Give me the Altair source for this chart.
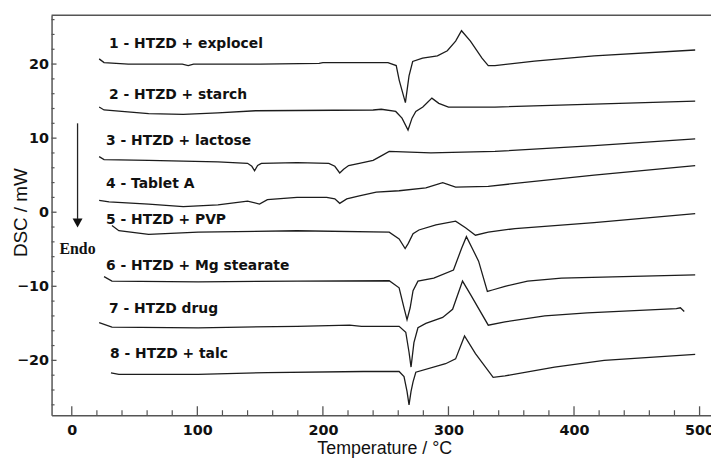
import altair as alt
import pandas as pd

# ---- data ----
names = ["1 - HTZD + explocel", "2 - HTZD + starch", "3 - HTZD + lactose", "4 - Tablet A",
         "5 - HTZD + PVP", "6 - HTZD + Mg stearate", "7 - HTZD drug", "8 - HTZD + talc"]

t1 = [21.8, 25.7, 45, 88, 92.7, 97, 150, 197, 200, 251.8, 258.4, 260.8, 265.7, 268.6, 271.5, 279.4,
      291.2, 299.1, 305.7, 310.4, 317.5, 326.7, 331.7, 337, 368.5, 416, 496.5]
d1 = [20.7, 20.2, 20.0, 20.0, 19.8, 20.0, 20.0, 20.1, 20.2, 20.2, 19.8, 17.8, 14.8, 18.4, 20.35, 20.8,
      21.1, 21.8, 23.1, 24.5, 23.1, 20.8, 19.8, 19.8, 20.4, 21.1, 21.9]

t2 = [21.8, 25.7, 61.2, 88.8, 116.4, 146.4, 240, 246.5, 258, 263, 267.8, 271, 274, 279.6, 286.8,
      292.3, 300, 337, 416, 496.5]
d2 = [14.2, 13.8, 13.3, 13.2, 13.4, 13.7, 13.8, 13.9, 13.6, 12.7, 11.1, 12.7, 13.6, 14.2, 15.4,
      14.7, 14.2, 14.2, 14.6, 15.0]

t3 = [21.8, 25.7, 61.2, 116.4, 140, 143.4, 145.6, 148, 151, 179.4, 204.7, 209.5, 213.4, 216.5, 220.5,
      229, 240, 246.5, 252.8, 286, 337, 416, 496.5]
d3 = [7.5, 7.1, 7.0, 6.8, 6.6, 6.2, 5.6, 6.3, 6.6, 6.7, 6.6, 6.2, 5.3, 5.8, 6.3,
      6.6, 7.0, 7.6, 8.2, 8.0, 8.2, 9.0, 9.9]

t4 = [21.8, 29.7, 61.2, 88.8, 116.4, 140, 149.5, 155.8, 179.4, 203, 209.5, 213.4, 219, 229, 242.5,
      260.7, 282, 295.4, 305.7, 331.7, 416, 496.5]
d4 = [1.6, 1.4, 1.1, 0.75, 1.0, 1.5, 1.1, 1.7, 2.0, 2.0, 1.8, 1.2, 1.8, 2.2, 2.7,
      2.9, 3.3, 4.0, 3.4, 3.5, 5.0, 6.3]

t5 = [32, 37.5, 61.2, 100.6, 179.4, 252.8, 260.7, 265.5, 268, 271.8, 276.5, 290, 305.7, 313.6, 321.5,
      331.7, 353, 416, 496.5]
d5 = [-1.8, -2.5, -3.0, -2.7, -2.5, -2.7, -3.6, -4.9, -4.2, -2.9, -2.4, -1.7, -1.2, -2.1, -3.1,
      -2.7, -2.2, -1.4, -0.2]

t6 = [25.7, 32, 100.6, 179.4, 252.8, 260.7, 264.6, 267, 269.5, 271.8, 275.7, 288.3, 304, 310.4, 314.3,
      319, 324, 331, 335, 345, 363, 390, 496.5]
d6 = [-8.7, -9.3, -9.4, -9.3, -9.25, -10.2, -12.9, -14.5, -12.9, -10.6, -9.3, -8.9, -7.8, -4.9, -3.3,
      -4.9, -6.6, -10.7, -10.5, -10.0, -9.3, -8.9, -8.45]

t7 = [21.8, 32, 100.6, 179.4, 221.3, 230.7, 260.7, 266, 268.6, 270.2, 272.5, 275.7, 282, 295.4, 303.3,
      311.2, 317.5, 331.7, 345, 376.7, 410.5, 481.5, 484.7, 487.8]
d7 = [-14.9, -15.5, -15.6, -15.4, -15.25, -15.4, -15.4, -16.2, -18.9, -20.9, -17.6, -15.6, -15.0, -14.2, -13.1,
      -9.3, -11.1, -15.25, -14.8, -14.0, -13.6, -13.0, -12.9, -13.4]

t8 = [31.2, 37.5, 100.6, 155.8, 232.3, 260.7, 264.6, 267, 268.6, 270.2, 271.8, 274, 297.7, 305.7, 312.8,
      321.5, 335.6, 345, 384.5, 424, 496.5]
d8 = [-21.7, -21.9, -21.9, -21.65, -21.5, -21.5, -22.2, -24.2, -26.0, -24.2, -22.9, -21.6, -20.45, -19.8, -16.7,
      -19.1, -22.3, -22.1, -20.9, -20.0, -19.2]

label_t = [29.7, 29.7, 27.3, 27.3, 27.3, 27.3, 29.7, 30.5]
label_d = [22.7, 15.8, 9.55, 3.8, -1.1, -7.2, -13.1, -19.1]

x_major = [0, 100, 200, 300, 400, 500]
x_minor = [v for v in range(20, 500, 20) if v % 100 != 0]
y_major = [-20, -10, 0, 10, 20]
y_minor = [v for v in range(-26, 27, 2) if v % 10 != 0]

arrow_t = [4.6]
arrow_top = [12.0]
arrow_end = [-0.9]
arrow_head = [-1.45]
endo_t = [-9.8]
endo_d = [-5.6]

# ---- build tables ----
series_t = [t1, t2, t3, t4, t5, t6, t7, t8]
series_d = [d1, d2, d3, d4, d5, d6, d7, d8]
rows = []
for n, ts, ds in zip(names, series_t, series_d):
    for i, (t, d) in enumerate(zip(ts, ds)):
        rows.append({"curve": n, "i": i, "T": t, "DSC": d})
curves = pd.DataFrame(rows)
labels = pd.DataFrame({"name": names, "T": label_t, "DSC": label_d})

W, H = 666, 404
xs = alt.Scale(domain=[-16.1, 509.1], nice=False, zero=False)
ys = alt.Scale(domain=[-27.4, 26.6], nice=False, zero=False)
AX = "#555555"
LBL = "DejaVu Sans"

xax = alt.Axis(
    values=x_major, ticks=False, grid=False, domainColor=AX, domainWidth=1.5,
    labelFont=LBL, labelFontWeight="bold", labelFontSize=14.5, labelColor="#111",
    labelPadding=9, title="Temperature / °C", titleFont="Liberation Sans",
    titleFontWeight="normal", titleFontSize=18, titleColor="#111",
    titleBaseline="alphabetic", titleY=39, titleX=336)
yax = alt.Axis(
    values=y_major, ticks=False, grid=False, domainColor=AX, domainWidth=1.5,
    labelFont=LBL, labelFontWeight="bold", labelFontSize=14.5, labelColor="#111",
    labelPadding=3, title="DSC / mW", titleFont="Liberation Sans", titleFontWeight="normal",
    titleFontSize=19, titleColor="#111", titleBaseline="alphabetic", titleAlign="center",
    titleAngle=270, titleX=-25, titleY=199)


def X(f="T"):
    return alt.X(f"{f}:Q", scale=xs, axis=xax, title="Temperature / °C")


def Y(f="DSC"):
    return alt.Y(f"{f}:Q", scale=ys, axis=yax, title="DSC / mW")


lines = alt.Chart(curves).mark_line(color="#1c1c1c", strokeWidth=1.3, interpolate="linear").encode(
    x=X(), y=Y(), detail="curve:N", order="i:Q")

text = alt.Chart(labels).mark_text(align="left", baseline="middle", font=LBL,
                                   fontWeight="bold", fontSize=14, color="#111").encode(
    x=X(), y=Y(), text="name:N")

xmaj = alt.Chart(pd.DataFrame({"T": x_major})).mark_rule(color=AX, strokeWidth=1.3).encode(
    x=X(), y=alt.value(H), y2=alt.value(H - 9))
xmin = alt.Chart(pd.DataFrame({"T": x_minor})).mark_rule(color=AX, strokeWidth=1.2).encode(
    x=X(), y=alt.value(H), y2=alt.value(H - 5))
ymaj = alt.Chart(pd.DataFrame({"DSC": y_major})).mark_rule(color=AX, strokeWidth=1.3).encode(
    y=Y(), x=alt.value(0), x2=alt.value(5))
ymin = alt.Chart(pd.DataFrame({"DSC": y_minor})).mark_rule(color=AX, strokeWidth=1.2).encode(
    y=Y(), x=alt.value(0), x2=alt.value(3))
top = alt.Chart(pd.DataFrame({"v": [0]})).mark_rule(color=AX, strokeWidth=1.5).encode(
    x=alt.value(0), x2=alt.value(W), y=alt.value(0))

arrow = alt.Chart(pd.DataFrame({"T": arrow_t, "DSC": arrow_top, "b": arrow_end})).mark_rule(
    color="#222", strokeWidth=1.3).encode(x=X(), y=Y(), y2="b:Q")
head = alt.Chart(pd.DataFrame({"T": arrow_t, "DSC": arrow_head})).mark_point(
    shape="M-1,-0.9L1,-0.9L0,0.9Z", filled=True, size=100, color="#111", opacity=1).encode(
    x=X(), y=Y())
endo = alt.Chart(pd.DataFrame({"T": endo_t, "DSC": endo_d, "s": ["Endo"]})).mark_text(
    align="left", baseline="alphabetic", font="Liberation Serif", fontWeight="bold",
    fontSize=16, color="#111").encode(x=X(), y=Y(), text="s:N")

chart = alt.layer(lines, xmaj, xmin, ymaj, ymin, top, arrow, head, endo, text).properties(
    width=W, height=H,
    autosize=alt.AutoSizeParams(type="none"),
    padding={"left": 44, "top": 5, "right": 0, "bottom": 42},
    background="white",
).configure_view(stroke=None)

chart.save("out.html", embed_options={"renderer": "svg", "actions": False})
